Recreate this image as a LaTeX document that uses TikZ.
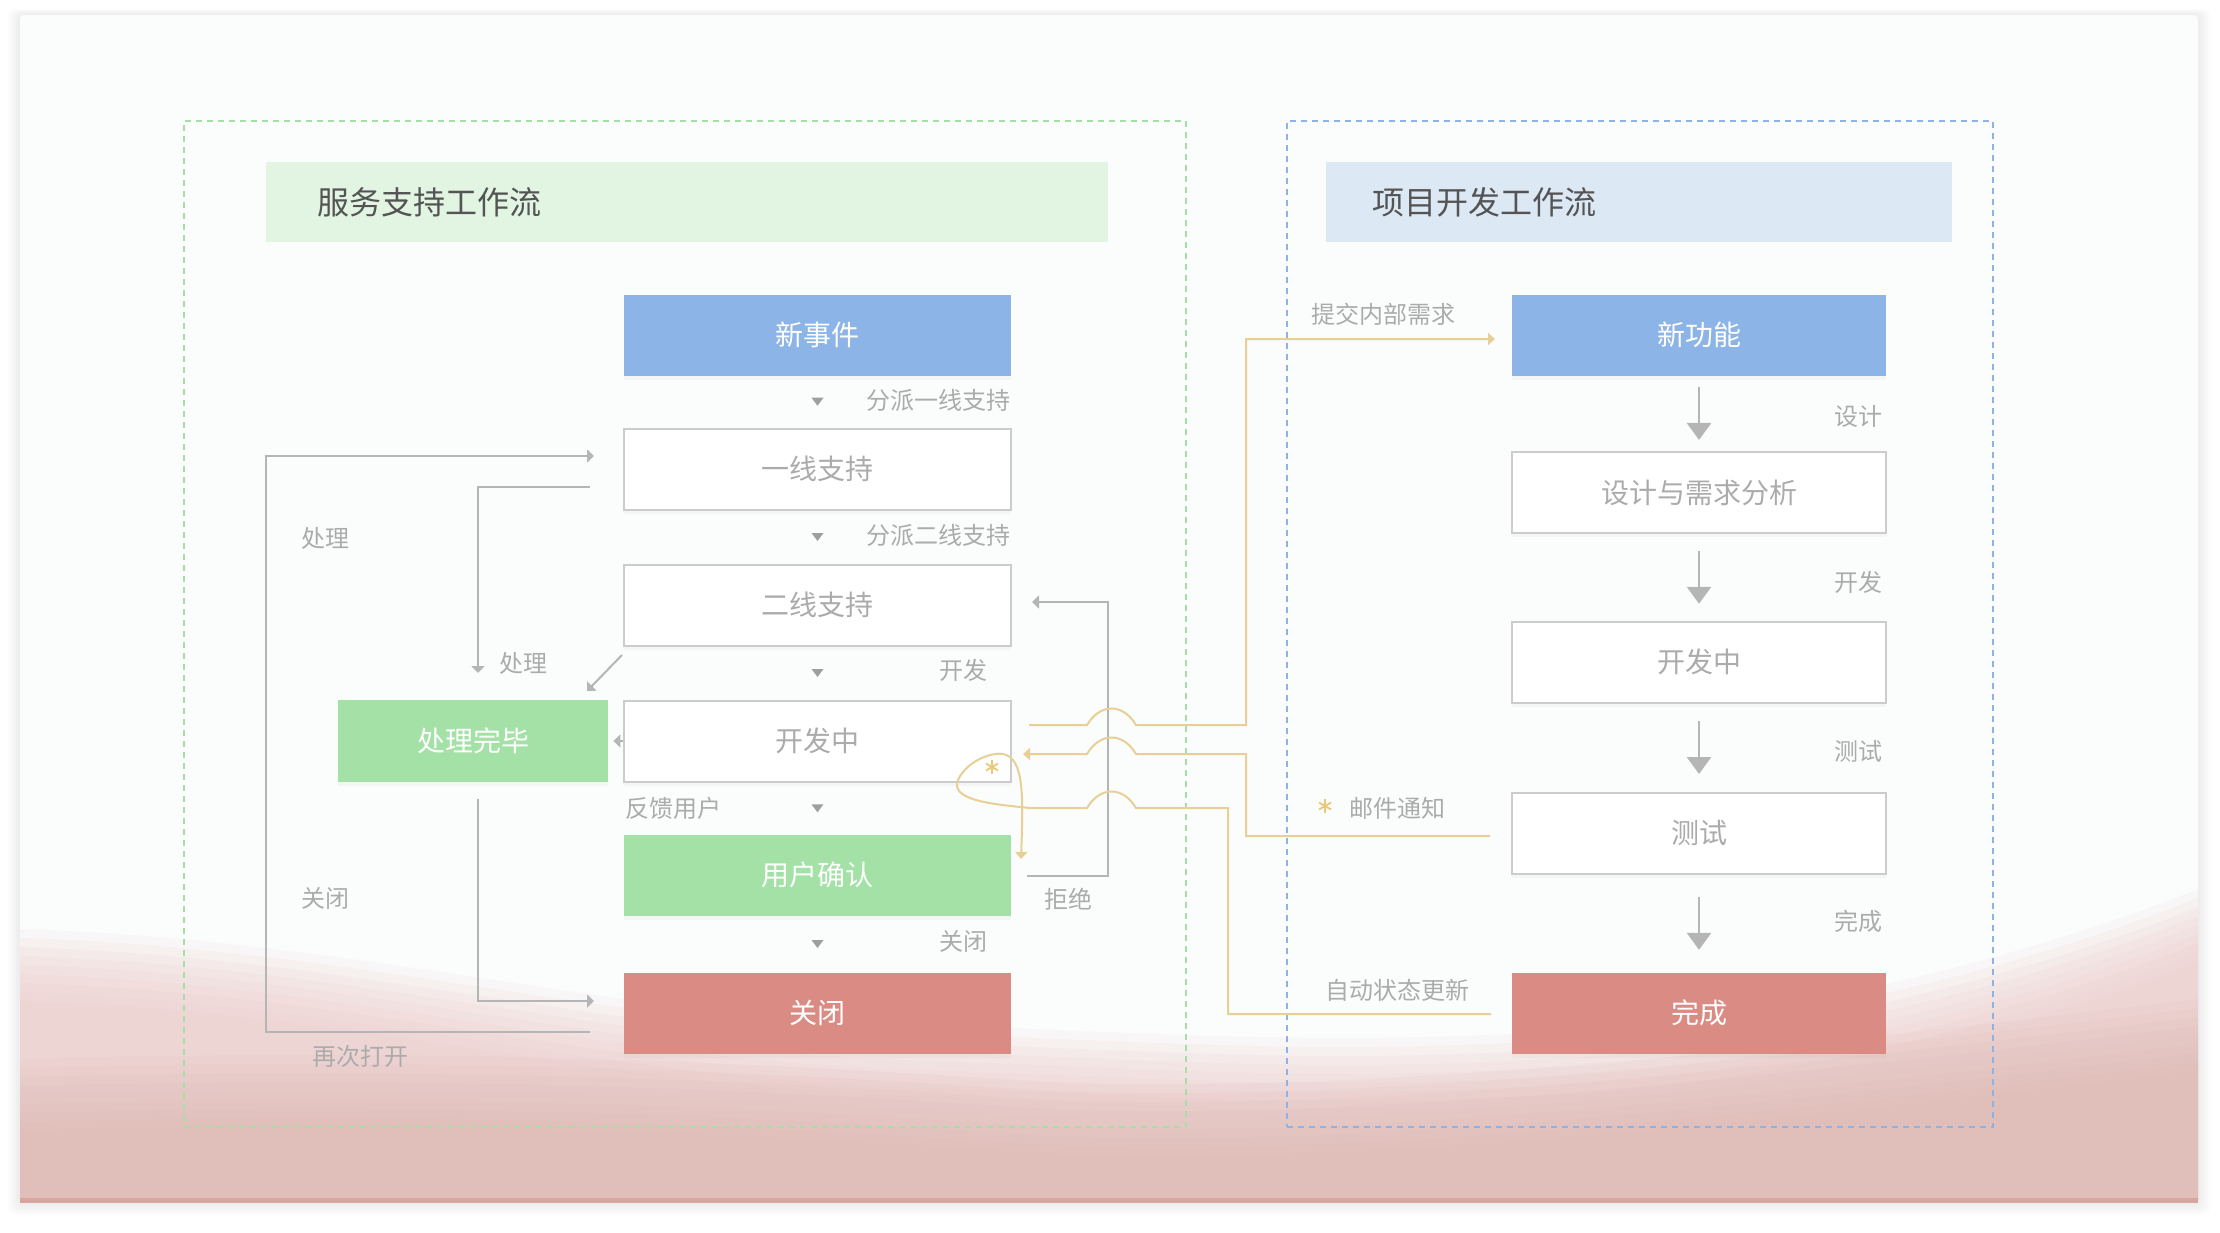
\documentclass[tikz,border=0pt]{standalone}
\usepackage{fontspec}
\newfontfamily\cjk{Noto Sans CJK SC}
\usetikzlibrary{arrows.meta,calc,shadows}

\definecolor{featblue}{HTML}{8CB4E6}
\definecolor{okgreen}{HTML}{A4E1A6}
\definecolor{endred}{HTML}{DA8B84}
\definecolor{headgreen}{HTML}{E2F4E2}
\definecolor{headblue}{HTML}{DDE8F5}
\definecolor{framegreen}{HTML}{A6DFA6}
\definecolor{frameblue}{HTML}{8DB3E6}
\definecolor{boxgray}{HTML}{CCCCCC}
\definecolor{txtgray}{HTML}{ABABAB}
\definecolor{linegray}{HTML}{B5B5B5}
\definecolor{tipgray}{HTML}{9E9E9E}
\definecolor{mailgold}{HTML}{E8CF95}
\definecolor{stargold}{HTML}{EBC77A}
\definecolor{pinkA}{HTML}{EBC9C7}
\definecolor{pinkB}{HTML}{DDB6B0}
\definecolor{pinkedge}{HTML}{D9A5A0}
\definecolor{cardbg}{HTML}{FBFDFD}

\newcommand*{\leftcol}{817.5}
\newcommand*{\rightcol}{1699}

\begin{document}
\begin{tikzpicture}
[
	x=0.5pt, y=-0.5pt,
	every node/.style={font=\cjk},
	colbox/.style={rectangle,inner sep=0pt,minimum width=193.5pt,minimum height=40.5pt,text=white,
		drop shadow={shadow xshift=0pt,shadow yshift=-2pt,opacity=0.05},
		font=\cjk\fontsize{14pt}{16pt}\selectfont},
	devbox/.style={colbox,minimum width=187pt},
	plainbox/.style={colbox,fill=white,draw=boxgray,line width=1pt,text=txtgray},
	headbox/.style={rectangle,inner sep=0pt,minimum height=40pt},
	headtxt/.style={anchor=west,inner sep=0pt,text=black!67,font=\cjk\fontsize{16pt}{18pt}\selectfont},
	frame/.style={rectangle,inner sep=0pt,line width=1pt,dash pattern=on 3pt off 2.5pt,minimum height=503pt},
	lbl/.style={inner sep=0pt,text=txtgray,font=\cjk\fontsize{12pt}{14pt}\selectfont},
	gline/.style={draw=linegray,line width=1pt},
	gtip/.style={gline,-{Triangle[length=3.5pt,width=6.5pt]}},
	bigarrow/.style={draw=linegray,line width=1.4pt,-{Triangle[length=8.5pt,width=12pt]}},
	mail/.style={draw=mailgold,line width=1pt},
	mailtip/.style={mail,-{Triangle[length=3.5pt,width=6pt]}}
]
	\useasboundingbox (0,0) rectangle (2220,1232);

	% card
	\foreach \g in {2,4,...,12} {
		\fill[black,opacity=0.012,rounded corners=4pt] (20-\g,15-\g*0.5) rectangle (2198+\g,1203+\g);
	}
	\fill[cardbg,rounded corners=2pt] (20,15) rectangle (2198,1203);

	% pink waves
	\begin{scope}
		\clip (20,15) rectangle (2198,1199);
		\foreach \s in {-36,-27,...,36} {
			\fill[pinkA,opacity=0.13,shift={(0,\s)}] (20,965) .. controls (350,975) and (600,1050) .. (900,1060)
				.. controls (1150,1068) and (1300,1082) .. (1550,1068)
				.. controls (1800,1055) and (2050,985) .. (2198,925) -- (2198,1280) -- (20,1280) -- cycle;
		}
		\foreach \s in {-36,-27,...,36} {
			\fill[pinkB,opacity=0.11,shift={(0,\s)}] (20,1095) .. controls (400,1085) and (700,1095) .. (1000,1115)
				.. controls (1300,1135) and (1700,1095) .. (2198,1035) -- (2198,1280) -- (20,1280) -- cycle;
		}
	\end{scope}
	\fill[pinkedge] (20,1198) rectangle (2198,1203);

	% frames and titles
	\node[frame,draw=framegreen,minimum width=501pt] (svcFrame) at (685,624) {};
	\node[frame,draw=frameblue,minimum width=353pt] (devFrame) at (1640,624) {};
	\node[headbox,fill=headgreen,minimum width=421pt] (svcHead) at (687,202) {};
	\node[headtxt] (svcTitle) at ($(svcHead.west)+(51,0)$) {服务支持工作流};
	\node[headbox,fill=headblue,minimum width=313pt] (devHead) at (1639,202) {};
	\node[headtxt] (devTitle) at ($(devHead.west)+(46,0)$) {项目开发工作流};

	% service states
	\node[colbox,fill=featblue] (evt) at (\leftcol,335) {新事件};
	\node[plainbox] (sup1) at (\leftcol,469) {一线支持};
	\node[plainbox] (sup2) at (\leftcol,605) {二线支持};
	\node[plainbox] (devL) at (\leftcol,741) {开发中};
	\node[colbox,fill=okgreen] (conf) at (\leftcol,875) {用户确认};
	\node[colbox,fill=endred] (close) at (\leftcol,1013) {关闭};
	\node[colbox,fill=okgreen,minimum width=135pt,minimum height=41pt] (done) at (473,741) {处理完毕};

	% development states
	\node[devbox,fill=featblue] (feat) at (\rightcol,335) {新功能};
	\node[plainbox,minimum width=187pt] (dsn) at (\rightcol,492.5) {设计与需求分析};
	\node[plainbox,minimum width=187pt] (devR) at (\rightcol,662) {开发中};
	\node[plainbox,minimum width=187pt] (tst) at (\rightcol,833) {测试};
	\node[devbox,fill=endred] (fin) at (\rightcol,1013) {完成};

	% service flow
	\foreach \a/\b in {evt/sup1,sup1/sup2,sup2/devL,devL/conf,conf/close} {
		\fill[tipgray] ($(\a.south)!0.5!(\b.north)$) ++(-6,-4) -- ++(12,0) -- ++(-6,8) -- cycle;
	}
	\node[lbl,anchor=east] (lAsg1) at (1011,400) {分派一线支持};
	\node[lbl,anchor=east] (lAsg2) at (1011,535) {分派二线支持};
	\node[lbl] (lDev) at (963,670) {开发};
	\node[lbl,anchor=west] (lFb) at (625,808) {反馈用户};
	\node[lbl] (lClose2) at (963,941) {关闭};

	% development flow
	\foreach \a/\b in {feat/dsn,dsn/devR,devR/tst,tst/fin} {
		\draw[bigarrow] ($(\a.south)!0.5!(\b.north)+(0,-26.5)$) -- ($(\a.south)!0.5!(\b.north)+(0,26.5)$);
	}
	\node[lbl,anchor=east] (lDsn) at (1883,416) {设计};
	\node[lbl,anchor=east] (lBuild) at (1883,582) {开发};
	\node[lbl,anchor=east] (lTest) at (1883,751) {测试};
	\node[lbl,anchor=east] (lFin) at (1883,921) {完成};

	% loops on the left
	\coordinate (reopenS) at (590,1032);
	\coordinate (reopenE) at (594,456);
	\draw[gtip] (reopenS) -| (266,456) -- (reopenE);
	\coordinate (handS) at (590,487);
	\coordinate (handE) at (478,673);
	\draw[gtip] (handS) -| (handE);
	\coordinate (shutS) at (478,799);
	\coordinate (shutE) at (594,1001);
	\draw[gtip] (shutS) |- (shutE);
	\coordinate (diagS) at (622,655);
	\coordinate (diagE) at (587,691);
	\draw[gtip] (diagS) -- (diagE);
	\draw[gtip,shorten >=2.5pt] (devL.west) -- (done.east);
	\node[lbl] (lReopen) at (360,1056) {再次打开};
	\node[lbl] (lHand1) at (325,538) {处理};
	\node[lbl] (lClose1) at (325,898) {关闭};
	\node[lbl] (lHand2) at (523,663) {处理};

	% reject
	\coordinate (rejS) at (1027,876);
	\coordinate (rejE) at (1032,602);
	\draw[gtip] (rejS) -| (1108,602) -- (rejE);
	\node[lbl] (lRej) at (1068,899) {拒绝};

	% links between the two flows
	\coordinate (askS) at (1029,725);
	\coordinate (askE) at (1495,339);
	\draw[mailtip] (askS) -- (1087,725) .. controls (1100,703) and (1123,703) .. (1136,725)
		-- (1246,725) -- (1246,339) -- (askE);
	\coordinate (mailS) at (1490,836);
	\coordinate (mailE) at (1023,754);
	\draw[mailtip] (mailS) -- (1246,836) -- (1246,754) -- (1136,754)
		.. controls (1123,732) and (1100,732) .. (1087,754) -- (mailE);
	\coordinate (autoS) at (1491,1014);
	\coordinate (autoE) at (1021,859);
	\draw[mailtip] (autoS) -- (1228,1014) -- (1228,808) -- (1136,808)
		.. controls (1123,786) and (1100,786) .. (1087,808) -- (1030,808)
		.. controls (990,804) and (950,800) .. (958,780)
		.. controls (966,762) and (990,752) .. (1003,754)
		.. controls (1025,758) and (1023,800) .. (autoE);
	\node[lbl] (lAsk) at (1383,314) {提交内部需求};
	\node[lbl,anchor=west] (lMail) at (1349,808) {邮件通知};
	\node[lbl] (lAuto) at (1397,990) {自动状态更新};

	% stars
	\foreach \cx/\cy in {992/767,1325/806} {
		\foreach \a in {90,30,150} {
			\draw[stargold,line width=0.9pt] (\cx,\cy) ++(\a:7) -- ++(\a+180:14);
		}
	}

\end{tikzpicture}
\end{document}
